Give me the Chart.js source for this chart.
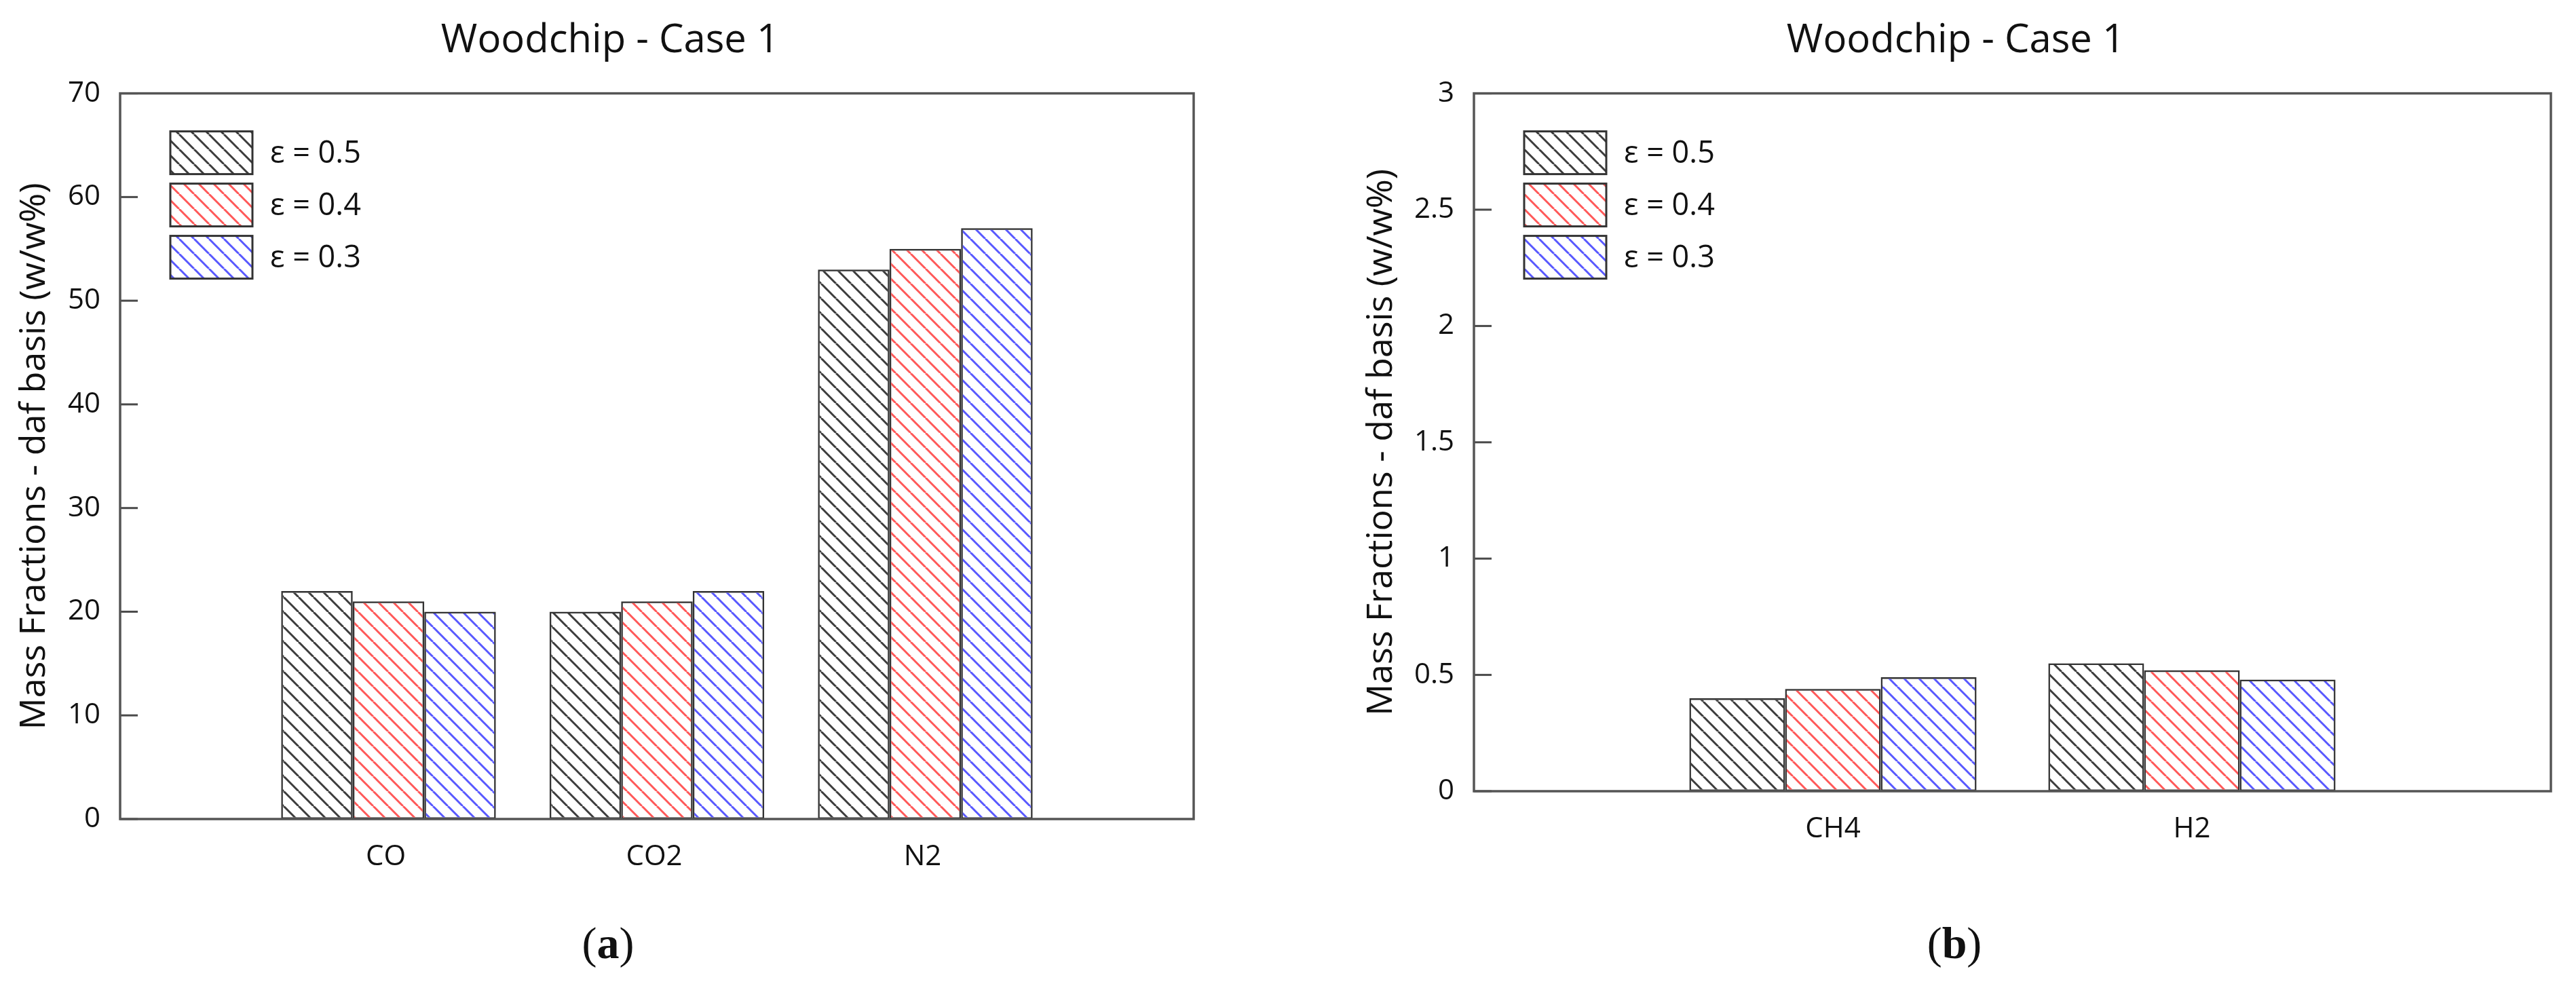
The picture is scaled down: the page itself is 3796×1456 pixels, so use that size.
<!DOCTYPE html>
<html>
<head>
<meta charset="utf-8">
<script src="https://cdn.jsdelivr.net/npm/chart.js@4.4.1/dist/chart.umd.min.js"></script>
<style>
  body { margin: 0; background: #fff; width: 3796px; height: 1456px; position: relative; overflow: hidden; }
  .panel { position: absolute; top: 0; }
  .caption { position: absolute; top: 1352px; width: 200px; text-align: center; font-family: "Liberation Serif", serif; font-size: 66px; color: #111; }
  .caption b { font-weight: bold; }
</style>
</head>
<body>
<canvas id="chartA" class="panel" width="1790" height="1330" style="left:0px"></canvas>
<canvas id="chartB" class="panel" width="1830" height="1330" style="left:1960px"></canvas>
<div class="caption" style="left:796px">(<b>a</b>)</div>
<div class="caption" style="left:2780px">(<b>b</b>)</div>

<script>
// data
const gasesA = ['CO', 'CO2', 'N2'];
const eps05A = [22, 20, 53];
const eps04A = [21, 21, 55];
const eps03A = [20, 22, 57];

const gasesB = ['CH4', 'H2'];
const eps05B = [0.40, 0.55];
const eps04B = [0.44, 0.52];
const eps03B = [0.49, 0.48];

const seriesLabels = ['ε = 0.5', 'ε = 0.4', 'ε = 0.3'];
const hatchColors = ['#3c3c3c', '#ff5858', '#5858ff'];

Chart.defaults.font.family = '"Open Sans", sans-serif';
Chart.defaults.color = '#111';

// diagonal "\" hatch
function hatch(color) {
  const s = 22;
  const tile = document.createElement('canvas');
  tile.width = s; tile.height = s;
  const c = tile.getContext('2d');
  c.strokeStyle = color;
  c.lineWidth = 3;
  [-s, 0, s].forEach(o => {
    c.beginPath();
    c.moveTo(o, 0);
    c.lineTo(o + s, s);
    c.stroke();
  });
  return c.createPattern(tile, 'repeat');
}

// frame, inner y ticks and the legend inside the plot
const framePlugin = {
  id: 'frame',
  afterDatasetsDraw(chart) {
    const ctx = chart.ctx;
    const a = chart.chartArea;
    const y = chart.scales.y;
    ctx.save();
    ctx.strokeStyle = '#4a4a4a';
    ctx.lineWidth = 3;
    y.ticks.forEach(t => {
      const py = y.getPixelForValue(t.value);
      ctx.beginPath();
      ctx.moveTo(a.left, py);
      ctx.lineTo(a.left + 26, py);
      ctx.stroke();
    });
    ctx.strokeStyle = '#555';
    ctx.lineWidth = 3.5;
    ctx.strokeRect(a.left, a.top, a.right - a.left, a.bottom - a.top);

    // legend
    const bx = a.left + 74, by = a.top + 56, bw = 121, bh = 63, step = 77;
    chart.data.datasets.forEach((ds, i) => {
      const top = by + i * step;
      ctx.fillStyle = ds.backgroundColor;
      ctx.fillRect(bx, top, bw, bh);
      ctx.strokeStyle = '#333';
      ctx.lineWidth = 3;
      ctx.strokeRect(bx, top, bw, bh);
      ctx.fillStyle = '#111';
      ctx.font = '45px "Open Sans", sans-serif';
      ctx.textBaseline = 'middle';
      ctx.textAlign = 'left';
      ctx.fillText(ds.label, bx + bw + 26, top + bh / 2 + 2);
    });
    ctx.restore();
  }
};

function makeChart(id, cats, series, yMax, yStep, pad, yWidth, xHeight, labelShift) {
  const datasets = series.map((vals, i) => ({
    label: seriesLabels[i],
    data: vals.map((v, k) => ({ x: k, y: v })),
    backgroundColor: hatch(hatchColors[i]),
    borderColor: '#333',
    borderWidth: 2.5,
    borderSkipped: false,
    categoryPercentage: 0.8,
    barPercentage: 1
  }));

  return new Chart(document.getElementById(id), {
    type: 'bar',
    data: { datasets },
    options: {
      responsive: false,
      animation: false,
      devicePixelRatio: 1,
      layout: { padding: pad },
      plugins: {
        legend: { display: false },
        tooltip: { enabled: false },
        title: {
          display: true,
          text: 'Woodchip - Case 1',
          color: '#111',
          font: { size: 58, weight: 'normal' },
          padding: { top: 26, bottom: 42 }
        }
      },
      scales: {
        x: {
          type: 'linear',
          offset: false,
          min: -1,
          max: cats.length,
          grid: { display: false, drawTicks: false },
          border: { display: false },
          ticks: {
            stepSize: 1,
            autoSkip: false,
            maxRotation: 0,
            padding: 31,
            labelOffset: labelShift,
            font: { size: 42 },
            color: '#111',
            callback: v => cats[v] ?? ''
          },
          afterFit: s => { s.height = xHeight; }
        },
        y: {
          min: 0,
          max: yMax,
          grid: { display: false, drawTicks: false },
          border: { display: false },
          ticks: {
            stepSize: yStep,
            padding: 29,
            font: { size: 42 },
            color: '#111',
            callback: v => String(v)
          },
          title: {
            display: true,
            text: 'Mass Fractions - daf basis (w/w%)',
            color: '#111',
            font: { size: 52 },
            padding: { top: 0, bottom: 0 }
          },
          afterFit: s => { s.width = yWidth; }
        }
      }
    },
    plugins: [framePlugin]
  });
}

makeChart('chartA', gasesA, [eps05A, eps04A, eps03A], 70, 10,
  { left: 20, right: 12, top: 0, bottom: 0 }, 157, 123, -4);
makeChart('chartB', gasesB, [eps05B, eps04B, eps03B], 3, 0.5,
  { left: 45, right: 31, top: 0, bottom: 0 }, 167, 164, 0);
</script>
</body>
</html>
